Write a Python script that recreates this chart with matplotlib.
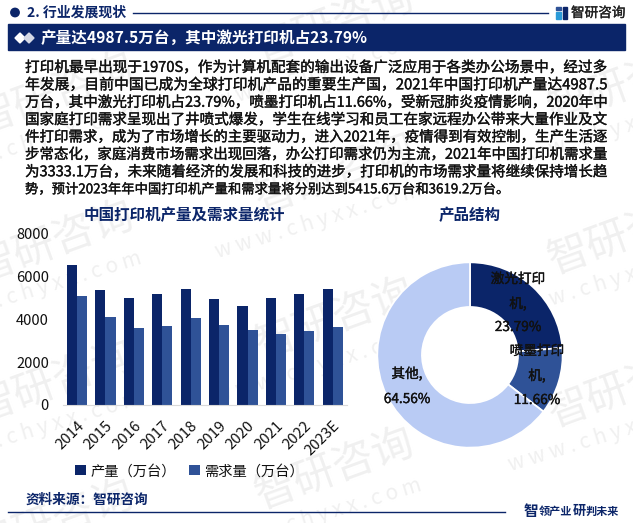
import matplotlib
matplotlib.use("Agg")
import matplotlib.pyplot as plt
import matplotlib.patheffects as pe
from matplotlib.patches import Rectangle, Circle, Polygon
import numpy as np

plt.rcParams['font.family'] = ['Noto Sans CJK SC', 'DejaVu Sans']

W, H = 633, 523
NAVY = '#0b2569'
BLUE = '#2f5297'
LIGHT = '#b9cbf4'

years = ['2014', '2015', '2016', '2017', '2018', '2019', '2020', '2021', '2022', '2023E']
output_vals = [6530, 5365, 4990, 5180, 5410, 4945, 4618, 4987.5, 5180, 5415.6]
demand_vals = [5085, 4105, 3590, 3685, 4058, 3730, 3498, 3333.1, 3460, 3619.2]
series_names = ['产量（万台）', '需求量（万台）']
y_ticks = [0, 2000, 4000, 6000, 8000]
pie_names = ['激光打印机', '喷墨打印机', '其他']
pie_vals = [23.79, 11.66, 64.56]
pie_labels = ['激光打印\n机,\n23.79%', '喷墨打印\n机,\n11.66%', '其他,\n64.56%']

para_lines = [
    '打印机最早出现于1970S，作为计算机配套的输出设备广泛应用于各类办公场景中，经过多',
    '年发展，目前中国已成为全球打印机产品的重要生产国，2021年中国打印机产量达4987.5',
    '万台，其中激光打印机占23.79%，喷墨打印机占11.66%，受新冠肺炎疫情影响，2020年中',
    '国家庭打印需求呈现出了井喷式爆发，学生在线学习和员工在家远程办公带来大量作业及文',
    '件打印需求，成为了市场增长的主要驱动力，进入2021年，疫情得到有效控制，生产生活逐',
    '步常态化，家庭消费市场需求出现回落，办公打印需求仍为主流，2021年中国打印机需求量',
    '为3333.1万台，未来随着经济的发展和科技的进步，打印机的市场需求量将继续保持增长趋',
    '势，预计2023年年中国打印机产量和需求量将分别达到5415.6万台和3619.2万台。',
]

fig = plt.figure(figsize=(W / 100, H / 100), dpi=100, facecolor='white')
INK = '#111111'
heavy = [pe.withStroke(linewidth=0.25, foreground=INK)]

def pixel_axes(z):
    a = fig.add_axes([0, 0, 1, 1], zorder=z)
    a.set_xlim(0, W)
    a.set_ylim(H, 0)
    a.axis('off')
    a.patch.set_alpha(0)
    return a

bg = pixel_axes(-1)
fg = pixel_axes(5)

# watermark
WM = '#f0f0f0'
for cx, cy in [(55, 95), (55, 243), (55, 383), (55, 522), (335, 25), (335, 175), (335, 320), (335, 470),
               (628, 85), (628, 235), (628, 388)]:
    bg.text(cx, cy, '智研咨询', fontsize=30, color=WM, rotation=20, ha='center', va='center',
            rotation_mode='anchor', clip_on=True)
    bg.text(cx - 17, cy + 46, 'w w w . c h y x x . c o m', fontsize=15, color=WM, rotation=17,
            ha='center', va='center', rotation_mode='anchor', clip_on=True)

# header
bg.add_patch(Circle((15, 12.5), 4.2, color=NAVY, zorder=3))
bg.text(27, 12.5, '2. 行业发展现状', fontsize=10, fontweight='bold', color=NAVY, va='center', zorder=3)
bg.plot([133, 548], [12.5, 12.5], color=NAVY, lw=1, zorder=3)
bg.add_patch(Rectangle((556, 7), 5, 3, color=BLUE, zorder=3))
bg.add_patch(Rectangle((556, 12), 5, 7, color='#2b9bd8', zorder=3))
bg.add_patch(Rectangle((563, 7), 4, 12, color=NAVY, zorder=3))
bg.text(571, 13, '智研咨询', fontsize=9.8, color='#222222', va='center', zorder=3, path_effects=heavy)

bg.add_patch(Rectangle((8, 24), 617, 26, color=NAVY, zorder=3))
bg.add_patch(Polygon([[15, 38], [20, 33], [25, 38], [20, 43]], color='white', zorder=4))
bg.add_patch(Polygon([[24, 38], [29, 33], [34, 38], [29, 43]], color='#d5d9e6', zorder=4))
bg.text(41, 37.5, '产量达4987.5万台，其中激光打印机占23.79%', fontsize=11.25, fontweight='bold',
        color='white', va='center', zorder=4)

# paragraph
fig.canvas.draw()
rend = fig.canvas.get_renderer()
for i, line in enumerate(para_lines):
    t = bg.text(25, 67.5 + i * 17.4, line, fontsize=9.6, color=INK, va='center', zorder=3, path_effects=heavy)
    if i < 7:
        t.set_fontsize(9.6 * 584 / t.get_window_extent(rend).width)

# bar chart
axb = fig.add_axes([62.8 / W, 1 - 405 / H, 284.2 / W, 171.5 / H], zorder=1)
axb.patch.set_alpha(0)
x = np.arange(len(years))
bw = 0.355
axb.bar(x - bw / 2, output_vals, bw, color=NAVY, label=series_names[0])
axb.bar(x + bw / 2, demand_vals, bw, color=BLUE, label=series_names[1])
axb.set_xlim(-0.5, len(years) - 0.5)
axb.set_ylim(0, 8000)
axb.set_yticks(y_ticks)
axb.set_xticks(x)
axb.set_xticklabels(years, rotation=45, ha='right', rotation_mode='anchor', fontsize=10.8, color=INK)
axb.tick_params(axis='y', length=0, labelsize=10.6, labelcolor=INK, pad=10)
axb.tick_params(axis='x', length=0, pad=10)
for s in ['top', 'right', 'left']:
    axb.spines[s].set_visible(False)
axb.spines['bottom'].set_color('#d9d9d9')
leg = axb.legend(loc='upper left', bbox_to_anchor=(0.043, -0.345), ncol=2, frameon=False, fontsize=10.3,
                 handlelength=0.75, handleheight=0.75, handletextpad=0.3, columnspacing=0.95, borderpad=0,
                 borderaxespad=0, labelcolor=INK)
fg.text(184.5, 215, '中国打印机产量及需求量统计', fontsize=11.2, fontweight='bold', color=NAVY, ha='center', va='center')

# donut
R, r = 92.7, 48
axp = fig.add_axes([(470 - R) / W, 1 - (355 + R) / H, 2 * R / W, 2 * R / H], zorder=1)
axp.patch.set_alpha(0)
axp.pie(pie_vals, colors=[NAVY, BLUE, LIGHT], startangle=90, counterclock=False, radius=1,
        wedgeprops=dict(width=1 - r / R, edgecolor='white', linewidth=1.3))
axp.set_xlim(-1, 1)
axp.set_ylim(-1, 1)
fg.text(470, 215, '产品结构', fontsize=11.2, fontweight='bold', color=NAVY, ha='center', va='center')

for label, (px, ys) in zip(pie_labels, [(518, (279, 304, 327)), (537, (351, 376, 400)), (407, (374, 399))]):
    for part, py in zip(label.split('\n'), ys):
        fg.text(px, py, part, fontsize=9.8, color=INK, ha='center', va='center', path_effects=heavy)

# footer
bg.text(26, 500, '资料来源：智研咨询', fontsize=9.8, color=NAVY, fontweight='bold', va='center', zorder=3)
bg.plot([8, 505], [512, 512], color=NAVY, lw=1, zorder=3)
bg.text(524, 511, '智', fontsize=10.5, fontweight='bold', color=NAVY, va='center', zorder=3)
bg.text(539, 511, '领产业', fontsize=8, fontweight='bold', color=NAVY, va='center', zorder=3)
bg.text(573, 511, '研', fontsize=9.5, fontweight='bold', color=NAVY, va='center', zorder=3)
bg.text(586, 511, '判未来', fontsize=8, fontweight='bold', color=NAVY, va='center', zorder=3)

fig.savefig('out.png', dpi=100)
